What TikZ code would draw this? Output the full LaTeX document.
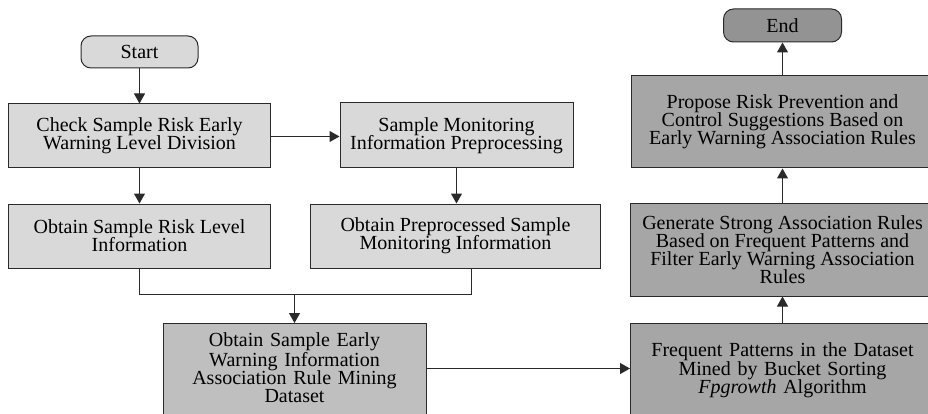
\documentclass[tikz,border=0pt]{standalone}
\usepackage{fontspec}
\setmainfont{Liberation Serif}
\usetikzlibrary{arrows.meta,calc}
\definecolor{edge}{HTML}{2A2A2A}
\definecolor{lightf}{HTML}{D9D9D9}
\definecolor{midf}{HTML}{BFBFBF}
\definecolor{darkf}{HTML}{A6A6A6}
\definecolor{endf}{HTML}{939393}
\lineskiplimit=-100pt
\begin{document}
\begin{tikzpicture}[x=1pt,y=-1pt,
  every node/.style={font=\fontsize{20}{18.2}\selectfont},
  box/.style={draw=edge, line width=1pt, inner sep=0pt, align=center},
  term/.style={box, rounded corners=10pt},
  cutbox/.style={box, anchor=north, text depth=150pt},
  conn/.style={draw=edge, line width=1pt},
  arr/.style={conn, -{Triangle[length=10pt,width=11pt]}}]
\path[use as bounding box] (0,0) rectangle (928,414);
\clip (0,0) rectangle (928,414);
% left column
\node[term, fill=lightf, minimum width=117pt, minimum height=32pt] (start) at (139.5,52) {Start};
\node[box, fill=lightf, minimum width=262pt, minimum height=64pt] (check) at (139.5,136) {Check Sample Risk Early\\Warning Level Division};
\node[box, fill=lightf, minimum width=262pt, minimum height=64pt] (risk) at (139.5,236) {Obtain Sample Risk Level\\Information};
% middle column
\node[box, fill=lightf, minimum width=233pt, minimum height=65pt] (monitor) at (456.5,135.5) {Sample Monitoring\\Information Preprocessing};
\node[box, fill=lightf, minimum width=290pt, minimum height=64pt] (pre) at (455.5,236) {Obtain Preprocessed Sample\\Monitoring Information};
% dataset
\node[cutbox, fill=midf, text width=263pt, inner ysep=9.5pt] (dataset) at (294.5,323) {Obtain Sample Early\\Warning Information\\Association Rule Mining\\Dataset};
% right column
\node[cutbox, fill=darkf, text width=304pt, inner ysep=19.5pt] (freq) at (782.5,323) {Frequent Patterns in the Dataset\\Mined by Bucket Sorting\\\textit{Fpgrowth} Algorithm};
\node[box, fill=darkf, minimum width=304pt, minimum height=93pt] (gen) at (782.5,249.5) {Generate Strong Association Rules\\Based on Frequent Patterns and\\Filter Early Warning Association\\Rules};
\node[box, fill=darkf, minimum width=302pt, minimum height=92pt] (prop) at (782.5,122) {Propose Risk Prevention and\\Control Suggestions Based on\\Early Warning Association Rules};
\node[term, fill=endf, minimum width=118pt, minimum height=33pt] (end) at (782.5,25.5) {End};
% connectors
\coordinate (merge) at (294.5,294.5);
\draw[arr] (start) -- (check);
\draw[arr] (check.east |- 0,136.5) -- (monitor.west |- 0,136.5);
\draw[arr] (check) -- (risk);
\draw[arr] (monitor.south) -- (monitor.south |- pre.north);
\draw[conn] (risk.south) |- (merge);
\draw[conn] ([xshift=16pt]pre.south) |- (merge);
\draw[arr] (merge) -- (merge |- dataset.north);
\draw[arr] (dataset.east |- 0,368.5) -- (freq.west |- 0,368.5);
\draw[arr] (freq) -- (gen);
\draw[arr] (gen) -- (prop);
\draw[arr] (prop) -- (end);
\end{tikzpicture}
\end{document}
